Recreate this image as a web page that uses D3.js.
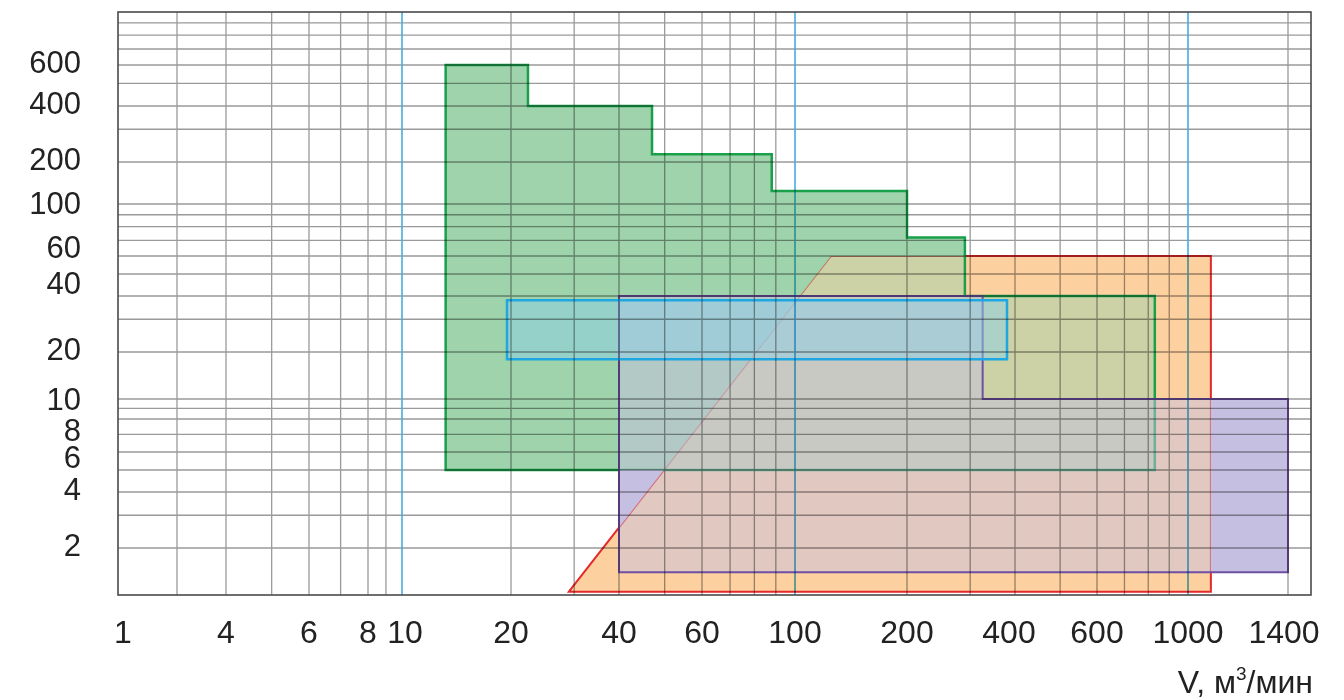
<!DOCTYPE html>
<html>
<head>
<meta charset="utf-8">
<script src="https://cdn.jsdelivr.net/npm/d3@7"></script>
<style>
  body { margin: 0; background: #fff; }
  text { font-family: "Liberation Sans", Arial, sans-serif; fill: #222; }
</style>
</head>
<body>
<div id="chart"></div>
<script>
/* DATA */
// tick labels as printed on the chart
const xTickLabels = [1, 4, 6, 8, 10, 20, 40, 60, 100, 200, 400, 600, 1000, 1400];
const yTickLabels = [600, 400, 200, 100, 60, 40, 20, 10, 8, 6, 4, 2];

// grey grid values, blue decade lines
const xGridValues = [2, 4, 5, 6, 7, 8, 9, 20, 30, 40, 50, 60, 70, 80, 90,
  200, 300, 400, 500, 600, 700, 800, 900, 1400];
const yGridValues = [2, 3, 4, 5, 6, 7, 8, 9, 10, 20, 30, 40, 50, 60, 70, 80, 90,
  100, 200, 300, 400, 500, 600, 700, 800, 900];
const decadeLines = [10, 100, 1000];

// zones as [V, y] vertices
const redZone = [[29, 1.05], [125, 60], [1080, 60], [1080, 1.05]];
const greenZone = [[13.2, 5], [13.2, 600], [22.3, 600], [22.3, 400], [47, 400], [47, 220],
  [88, 220], [88, 124], [200, 124], [200, 72], [290, 72], [290, 40], [830, 40], [830, 5]];
const purpleZone = [[40, 1.4], [40, 40], [325, 40], [325, 10], [1400, 10], [1400, 1.4]];
const cyanZone = [[19.5, 18], [19.5, 38], [380, 38], [380, 18]];

/* LAYOUT */
const width = 1344, height = 700,
  margin = { top: 12, right: 33, bottom: 105, left: 118 };
const innerW = width - margin.left - margin.right,
  innerH = height - margin.top - margin.bottom;

// the printed grid is hand spaced, so the log scales are piecewise
const xStops = [1, 2, 4, 6, 8, 10, 20, 40, 60, 100, 200, 400, 600, 1000, 1400, 1500];
const xStopPx = [0, 59, 108, 191, 250, 284, 393, 501, 584, 677, 789, 897, 979, 1070, 1170, innerW];
const yStops = [1, 2, 4, 6, 8, 10, 20, 40, 60, 100, 200, 400, 600, 1000];
const yStopPx = [innerH, 536, 480, 440, 407, 387, 340, 284, 244, 192, 150, 94, 53, 0];

const xLabelNudge = { 1: 5, 10: 3, 400: -6, 1400: -4 };
const yLabelNudge = { 100: 2, 60: -6, 40: -10, 10: 3, 8: 14, 6: 8 };

// drawing order: red at the bottom, cyan on top; overlaps mix 50/50
const zones = [
  { pts: redZone, fill: "#fdd0a0", stroke: "#e5292a", sw: 2 },
  { pts: greenZone, fill: "#9ed3ab", stroke: "#19a04b", sw: 2.5 },
  { pts: purpleZone, fill: "#c5c0e2", stroke: "#6e4fa2", sw: 2 },
  { pts: cyanZone, fill: "#8ccfe6", stroke: "#1ea7e1", sw: 2.5 }
];

/* SCALES */
const xScale = d3.scaleLog().domain(xStops).range(xStopPx);
const yScale = d3.scaleLog().domain(yStops).range(yStopPx);

const svg = d3.select("#chart")
  .append("svg")
  .attr("width", width)
  .attr("height", height);

const g = svg.append("g")
  .attr("transform", `translate(${margin.left}, ${margin.top})`);

const line = d3.line().x(d => xScale(d[0])).y(d => yScale(d[1]));
const zonePath = d => line(d.pts) + "Z";

// masks: inside / outside of the zones drawn before each one
const defs = svg.append("defs");
zones.forEach((z, k) => {
  if (k === 0) return;
  const prev = zones.slice(0, k);
  const inside = defs.append("mask").attr("id", `inside-${k}`)
    .attr("maskUnits", "userSpaceOnUse")
    .attr("x", -20).attr("y", -20).attr("width", innerW + 40).attr("height", innerH + 40);
  inside.selectAll("path").data(prev).join("path")
    .attr("d", zonePath).attr("fill", "#fff");

  const outside = defs.append("mask").attr("id", `outside-${k}`)
    .attr("maskUnits", "userSpaceOnUse")
    .attr("x", -20).attr("y", -20).attr("width", innerW + 40).attr("height", innerH + 40);
  outside.append("rect")
    .attr("x", -20).attr("y", -20).attr("width", innerW + 40).attr("height", innerH + 40)
    .attr("fill", "#fff");
  outside.selectAll("path").data(prev).join("path")
    .attr("d", zonePath).attr("fill", "#000");
});

// zones
zones.forEach((z, k) => {
  const layer = g.append("g");
  if (k === 0) {
    layer.append("path").attr("d", zonePath(z)).attr("fill", z.fill);
  } else {
    layer.append("path").attr("d", zonePath(z)).attr("fill", z.fill)
      .attr("fill-opacity", 0.5).attr("mask", `url(#inside-${k})`);
    layer.append("path").attr("d", zonePath(z)).attr("fill", z.fill)
      .attr("mask", `url(#outside-${k})`);
  }
  layer.append("path")
    .attr("d", zonePath(z))
    .attr("fill", "none")
    .attr("stroke", z.stroke)
    .attr("stroke-width", z.sw);
});

// grid, shown through the zones
const grid = g.append("g").style("mix-blend-mode", "multiply");

grid.append("g").selectAll("line")
  .data(xGridValues)
  .join("line")
  .attr("x1", d => xScale(d)).attr("x2", d => xScale(d))
  .attr("y1", 0).attr("y2", innerH)
  .attr("stroke", "#9a9a9a").attr("stroke-width", 1.3);

grid.append("g").selectAll("line")
  .data(yGridValues)
  .join("line")
  .attr("x1", 0).attr("x2", innerW)
  .attr("y1", d => yScale(d)).attr("y2", d => yScale(d))
  .attr("stroke", "#9a9a9a").attr("stroke-width", 1.3);

grid.append("g").selectAll("line")
  .data(decadeLines)
  .join("line")
  .attr("x1", d => xScale(d)).attr("x2", d => xScale(d))
  .attr("y1", 0).attr("y2", innerH)
  .attr("stroke", "#45ade0").attr("stroke-width", 1.6);

g.append("rect")
  .attr("width", innerW).attr("height", innerH)
  .attr("fill", "none").attr("stroke", "#4a4a4a").attr("stroke-width", 1.6);

// tick labels
g.append("g").selectAll("text")
  .data(xTickLabels)
  .join("text")
  .attr("x", d => xScale(d) + (xLabelNudge[d] || 0))
  .attr("y", innerH + 48)
  .attr("text-anchor", "middle")
  .attr("font-size", 32)
  .text(d => d);

g.append("g").selectAll("text")
  .data(yTickLabels)
  .join("text")
  .attr("x", 81 - margin.left)
  .attr("y", d => yScale(d) + 8 + (yLabelNudge[d] || 0))
  .attr("text-anchor", "end")
  .attr("font-size", 31)
  .text(d => d);

// axis title
const title = svg.append("text")
  .attr("x", 1313)
  .attr("y", 693)
  .attr("text-anchor", "end")
  .attr("font-size", 32);
title.append("tspan").text("V, м");
title.append("tspan").attr("font-size", 19).attr("dy", -13).text("3");
title.append("tspan").attr("dy", 13).text("/мин");
</script>
</body>
</html>
